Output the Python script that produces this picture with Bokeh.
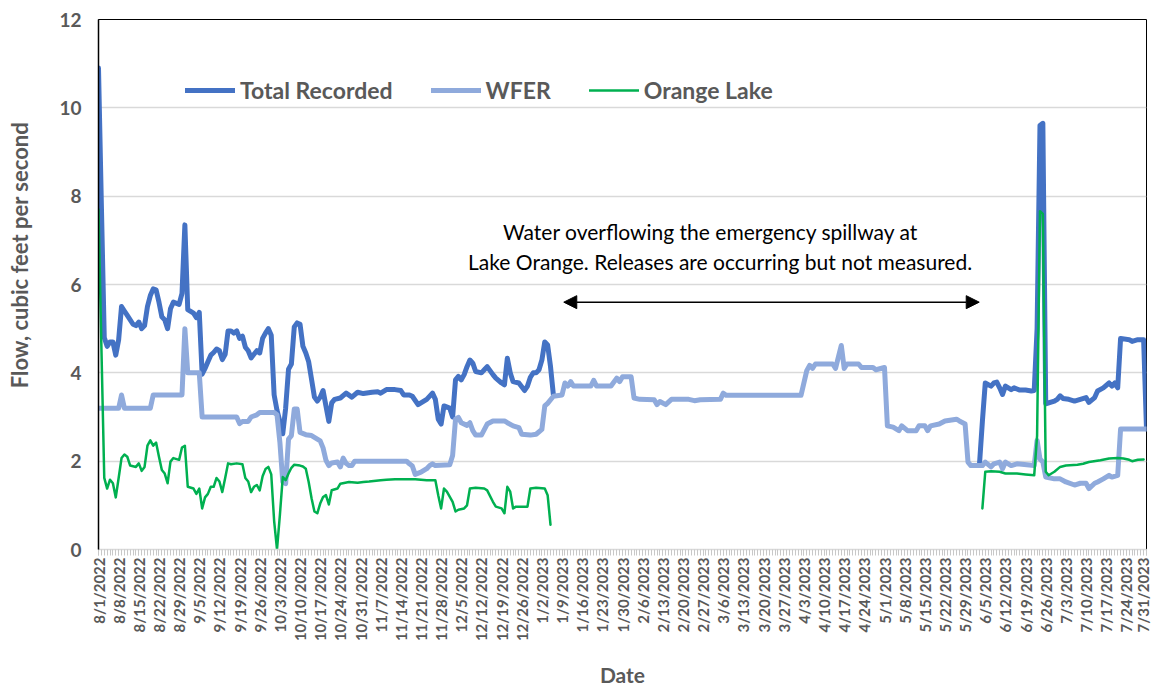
import math
from bokeh.plotting import figure
from bokeh.models import Range1d, FixedTicker, Label, Arrow, NormalHead
from bokeh.embed import file_html
from bokeh.resources import INLINE

NaN = float("nan")

# ---------------- data (day 0 = 8/1/2022, daily flows in cfs) ----------------
tick_labels = [
    "8/1/2022", "8/8/2022", "8/15/2022", "8/22/2022", "8/29/2022", "9/5/2022",
    "9/12/2022", "9/19/2022", "9/26/2022", "10/3/2022", "10/10/2022", "10/17/2022",
    "10/24/2022", "10/31/2022", "11/7/2022", "11/14/2022", "11/21/2022", "11/28/2022",
    "12/5/2022", "12/12/2022", "12/19/2022", "12/26/2022", "1/2/2023", "1/9/2023",
    "1/16/2023", "1/23/2023", "1/30/2023", "2/6/2023", "2/13/2023", "2/20/2023",
    "2/27/2023", "3/6/2023", "3/13/2023", "3/20/2023", "3/27/2023", "4/3/2023",
    "4/10/2023", "4/17/2023", "4/24/2023", "5/1/2023", "5/8/2023", "5/15/2023",
    "5/22/2023", "5/29/2023", "6/5/2023", "6/12/2023", "6/19/2023", "6/26/2023",
    "7/3/2023", "7/10/2023", "7/17/2023", "7/24/2023", "7/31/2023",
]
tick_days = list(range(0, 365, 7))

total_day = [0, 1, 2, 3, 4, 5, 6, 7, 8, 9, 10, 12, 13, 14, 15, 16, 17, 18, 19, 20,
             21, 22, 23, 24, 25, 26, 28, 29, 30, 31, 33, 34, 35, 36, 37, 38, 39, 40,
             41, 42, 43, 44, 45, 46, 47, 48, 49, 50, 51, 52, 53, 54, 55, 56, 57, 58,
             59, 60, 61, 62, 63, 64, 65, 66, 67, 68, 69, 70, 71, 72, 73, 74, 75, 76,
             77, 78, 79, 80, 81, 82, 84, 86, 88, 90, 92, 95, 97, 98, 100, 103, 105,
             106, 108, 109, 111, 112, 114, 116, 117, 118, 119, 120, 122, 123, 124,
             125, 126, 127, 128, 129, 130, 131, 133, 134, 135, 137, 138, 140, 141,
             142, 143, 144, 146, 148, 149, 150, 151, 152, 153, 154, 155, 156, 157,
             158, 230, 306, 307, 308, 310, 311, 312, 313, 314, 315, 317, 318, 320,
             322, 324, 325, 326, 327, 328, 329, 332, 333, 334, 335, 337, 339, 341,
             343, 344, 346, 347, 349, 351, 352, 353, 354, 355, 358, 359, 361, 363, 364]
total_cfs = [10.9, 7.8, 4.8, 4.6, 4.7, 4.7, 4.4, 4.75, 5.5, 5.4, 5.3, 5.1, 5.07, 5.15,
             5.0, 5.07, 5.5, 5.75, 5.9, 5.88, 5.6, 5.27, 5.2, 5.0, 5.45, 5.6, 5.55, 5.8,
             7.35, 5.43, 5.35, 5.25, 5.37, 3.97, 4.1, 4.25, 4.4, 4.46, 4.54, 4.5, 4.3,
             4.42, 4.95, 4.95, 4.9, 4.95, 4.78, 4.83, 4.58, 4.5, 4.34, 4.42, 4.5, 4.45,
             4.78, 4.9, 5.0, 4.85, 3.5, 3.15, 2.9, 2.62, 3.2, 4.08, 4.2, 5.04, 5.13, 5.1,
             4.6, 4.45, 4.25, 3.85, 3.45, 3.36, 3.45, 3.6, 3.25, 2.9, 3.32, 3.4, 3.43,
             3.54, 3.45, 3.56, 3.53, 3.56, 3.57, 3.54, 3.62, 3.62, 3.6, 3.5, 3.5, 3.47,
             3.28, 3.32, 3.4, 3.54, 3.4, 2.95, 2.84, 3.25, 3.2, 3.0, 3.84, 3.92, 3.84,
             3.96, 4.14, 4.29, 4.22, 4.03, 4.0, 4.07, 4.14, 3.96, 3.88, 3.77, 3.73, 4.33,
             4.0, 3.8, 3.77, 3.6, 3.7, 3.9, 4.0, 4.0, 4.07, 4.29, 4.7, 4.63, 4.14, 3.5,
             NaN, 1.94, 2.9, 3.77, 3.7, 3.77, 3.79, 3.66, 3.51, 3.7, 3.62, 3.66, 3.61,
             3.61, 3.59, 3.6, 5.0, 9.6, 9.65, 3.3, 3.36, 3.4, 3.48, 3.42, 3.4, 3.36, 3.4,
             3.44, 3.33, 3.44, 3.59, 3.66, 3.77, 3.7, 3.77, 3.66, 4.78, 4.75, 4.71, 4.75,
             4.75, 2.73]

wfer_day = [0, 7, 8, 9, 18, 19, 29, 30, 31, 35, 36, 48, 49, 50, 52, 53, 55, 56, 61,
            62, 63, 64, 65, 66, 67, 68, 69, 70, 72, 74, 76, 77, 78, 79, 80, 81, 83, 84,
            85, 86, 87, 88, 89, 107, 108, 109, 110, 112, 114, 115, 116, 117, 122, 123,
            124, 125, 126, 128, 129, 130, 131, 133, 135, 137, 141, 142, 144, 146, 147,
            150, 152, 154, 155, 156, 158, 161, 162, 163, 164, 165, 171, 172, 173, 178,
            180, 181, 182, 185, 186, 188, 193, 194, 195, 197, 199, 205, 207, 209, 216,
            217, 218, 244, 246, 247, 248, 249, 255, 256, 258, 259, 260, 264, 265, 269,
            270, 273, 274, 276, 277, 278, 279, 281, 284, 285, 287, 288, 289, 292, 294,
            298, 299, 301, 302, 303, 307, 308, 310, 311, 313, 314, 315, 317, 319, 325,
            326, 327, 328, 329, 332, 334, 336, 339, 341, 343, 344, 346, 347, 349, 351,
            352, 354, 355, 364]
wfer_cfs = [3.2, 3.2, 3.5, 3.2, 3.2, 3.5, 3.5, 5.0, 4.0, 4.0, 3.0, 3.0, 2.85, 2.9, 2.9,
            3.0, 3.05, 3.1, 3.1, 3.05, 2.43, 1.53, 1.49, 2.5, 2.58, 3.18, 3.18, 2.65,
            2.6, 2.58, 2.5, 2.46, 2.3, 2.02, 1.9, 1.96, 1.98, 1.87, 2.07, 1.95, 1.9, 1.9,
            2.0, 2.0, 1.94, 1.89, 1.7, 1.75, 1.83, 1.9, 1.94, 1.9, 1.92, 2.13, 2.95,
            2.99, 2.87, 2.81, 2.87, 2.69, 2.59, 2.59, 2.84, 2.91, 2.91, 2.87, 2.8, 2.76,
            2.61, 2.59, 2.61, 2.72, 3.25, 3.31, 3.47, 3.5, 3.77, 3.7, 3.8, 3.7, 3.7, 3.83,
            3.7, 3.7, 3.88, 3.8, 3.91, 3.91, 3.43, 3.4, 3.39, 3.28, 3.35, 3.28, 3.4, 3.4,
            3.37, 3.39, 3.4, 3.54, 3.49, 3.49, 4.05, 4.17, 4.1, 4.2, 4.2, 4.1, 4.62, 4.1,
            4.2, 4.2, 4.12, 4.12, 4.07, 4.12, 2.8, 2.77, 2.73, 2.69, 2.8, 2.69, 2.69, 2.8,
            2.8, 2.69, 2.8, 2.84, 2.91, 2.95, 2.91, 2.84, 1.98, 1.9, 1.9, 1.98, 1.87,
            1.94, 1.98, 1.83, 1.98, 1.9, 1.94, 1.9, 2.47, 2.05, 1.98, 1.64, 1.6, 1.6,
            1.53, 1.46, 1.5, 1.5, 1.38, 1.5, 1.53, 1.6, 1.68, 1.64, 1.68, 2.73, 2.73]

orange_day = [0, 1, 2, 3, 4, 5, 6, 7, 8, 9, 10, 11, 13, 14, 15, 16, 17, 18, 19, 20,
              21, 22, 23, 24, 25, 26, 28, 29, 30, 31, 33, 34, 35, 36, 37, 38, 39, 40,
              41, 42, 43, 44, 45, 46, 48, 50, 51, 52, 53, 54, 55, 56, 57, 58, 59, 60,
              61, 62, 63, 64, 65, 66, 67, 68, 70, 71, 72, 73, 74, 75, 76, 77, 78, 79,
              80, 81, 83, 84, 87, 90, 92, 94, 98, 100, 103, 110, 114, 117, 118, 119,
              120, 121, 123, 124, 125, 127, 128, 129, 131, 134, 135, 137, 138, 140,
              141, 142, 143, 144, 145, 149, 150, 152, 155, 156, 157, 230, 307, 308,
              310, 313, 315, 319, 322, 325, 326, 327, 328, 329, 330, 332, 334, 336,
              340, 342, 344, 348, 351, 354, 356, 358, 359, 361, 363]
orange_cfs = [7.7, 4.6, 1.62, 1.38, 1.58, 1.5, 1.18, 1.62, 2.07, 2.15, 2.1, 1.9, 1.87,
              1.95, 1.78, 1.87, 2.35, 2.47, 2.35, 2.42, 2.1, 1.8, 1.72, 1.5, 1.99, 2.07,
              2.03, 2.31, 2.35, 1.42, 1.38, 1.26, 1.38, 0.93, 1.18, 1.26, 1.42, 1.42,
              1.62, 1.54, 1.3, 1.62, 1.95, 1.93, 1.95, 1.93, 1.62, 1.54, 1.3, 1.42, 1.46,
              1.34, 1.66, 1.82, 1.87, 1.7, 0.65, 0.0, 0.78, 1.64, 1.57, 1.72, 1.85, 1.92,
              1.9, 1.88, 1.83, 1.53, 1.16, 0.86, 0.82, 1.04, 1.19, 1.23, 1.02, 1.34, 1.38,
              1.49, 1.53, 1.51, 1.53, 1.54, 1.57, 1.58, 1.59, 1.59, 1.57, 1.57, 1.23,
              0.93, 1.38, 1.31, 1.08, 0.86, 0.9, 0.93, 1.0, 1.38, 1.4, 1.38, 1.34, 1.08,
              0.97, 0.93, 0.82, 1.42, 1.31, 0.93, 0.97, 0.97, 1.38, 1.4, 1.38, 1.23, 0.56,
              NaN, 0.93, 1.76, 1.77, 1.76, 1.72, 1.72, 1.7, 1.68, 2.58, 7.66, 7.6, 1.76,
              1.68, 1.76, 1.87, 1.9, 1.92, 1.94, 1.98, 2.02, 2.06, 2.07, 2.06, 2.03, 2.0,
              2.03, 2.04]

series_names = ["Total Recorded", "WFER", "Orange Lake"]
series_colors = ["#4472C4", "#8FAADC", "#00B050"]

note_lines = ["Water overflowing the emergency spillway at",
              "Lake Orange. Releases are occurring but not measured."]
spill_start_day, spill_end_day, spill_arrow_level = 161.6, 305.9, 5.6

# ---------------- figure ----------------
FONT = "Lato"
GREY = "#595959"

p = figure(width=1151, height=690, x_range=Range1d(0, 364), y_range=Range1d(0, 12),
           output_backend="svg", toolbar_location=None,
           min_border_left=98, min_border_right=5, min_border_top=19,
           min_border_bottom=135)
p.background_fill_color = "white"
p.border_fill_color = "white"
p.outline_line_color = "black"
p.outline_line_width = 1

p.xgrid.grid_line_color = None
p.ygrid.grid_line_color = "#d9d9d9"
p.ygrid.grid_line_width = 1.5

p.yaxis.ticker = FixedTicker(ticks=list(range(0, 13, 2)))
p.yaxis.axis_line_color = "black"
p.yaxis.axis_line_width = 1.5
p.yaxis.major_tick_out = 0
p.yaxis.major_tick_in = 0
p.yaxis.minor_tick_out = 0
p.yaxis.minor_tick_in = 0
p.yaxis.major_label_standoff = 17
p.yaxis.major_label_text_font = FONT
p.yaxis.major_label_text_font_style = "bold"
p.yaxis.major_label_text_font_size = "19px"
p.yaxis.major_label_text_color = GREY
# leading no-break spaces lift the centred title to where the reference has it
p.yaxis.axis_label = "\u00a0" * 11 + "Flow, cubic feet per second"
p.yaxis.axis_label_standoff = 23
p.yaxis.axis_label_text_font = FONT
p.yaxis.axis_label_text_font_style = "bold"
p.yaxis.axis_label_text_font_size = "22px"
p.yaxis.axis_label_text_color = GREY

p.xaxis.ticker = FixedTicker(ticks=tick_days, minor_ticks=list(range(0, 365)))
p.xaxis.major_label_overrides = {d: t for d, t in zip(tick_days, tick_labels)}
p.xaxis.major_label_orientation = math.pi / 2
p.xaxis.axis_line_color = "#d9d9d9"
p.xaxis.axis_line_width = 1.5
p.xaxis.major_tick_out = 6
p.xaxis.major_tick_in = 0
p.xaxis.minor_tick_out = 6
p.xaxis.minor_tick_in = 0
p.xaxis.major_tick_line_color = "#c8c8c8"
p.xaxis.minor_tick_line_color = "#c8c8c8"
p.xaxis.major_label_standoff = 2
p.xaxis.major_label_text_font = FONT
p.xaxis.major_label_text_font_style = "bold"
p.xaxis.major_label_text_font_size = "15px"
p.xaxis.major_label_text_color = GREY
p.xaxis.axis_label = "Date"
p.xaxis.axis_label_standoff = 18
p.xaxis.axis_label_text_font = FONT
p.xaxis.axis_label_text_font_style = "bold"
p.xaxis.axis_label_text_font_size = "21px"
p.xaxis.axis_label_text_color = GREY

widths = [5, 5, 2.5]
for xs, ys, name, col, w in zip([total_day, wfer_day, orange_day],
                                [total_cfs, wfer_cfs, orange_cfs],
                                series_names, series_colors, widths):
    p.line(xs, ys, line_color=col, line_width=w, line_join="round",
           line_cap="round", legend_label=name)

lg = p.legend[0]
lg.orientation = "horizontal"
lg.location = (87, 445)
lg.padding = 0
lg.margin = 0
lg.spacing = 38
lg.glyph_width = 50
lg.glyph_height = 24
lg.label_standoff = 5
lg.label_text_font = FONT
lg.label_text_font_style = "bold"
lg.label_text_font_size = "23px"
lg.label_text_color = GREY
lg.background_fill_alpha = 0
lg.border_line_color = None

# annotation
p.add_layout(Label(x=212.7, y=7.2, text=note_lines[0], text_font=FONT,
                   text_font_size="21px", text_color="black", text_align="center",
                   text_baseline="alphabetic"))
p.add_layout(Label(x=215.9, y=6.51, text=note_lines[1], text_font=FONT,
                   text_font_size="21px", text_color="black", text_align="center",
                   text_baseline="alphabetic"))
p.add_layout(Arrow(x_start=spill_start_day, y_start=spill_arrow_level,
                   x_end=spill_end_day, y_end=spill_arrow_level,
                   line_color="black", line_width=1.5,
                   start=NormalHead(size=13, fill_color="black", line_color="black"),
                   end=NormalHead(size=13, fill_color="black", line_color="black")))

open("out.html", "w").write(file_html(p, INLINE))
